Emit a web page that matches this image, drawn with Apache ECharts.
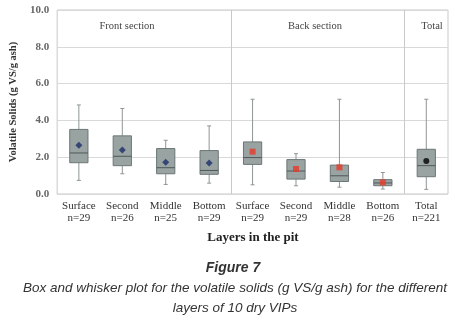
<!DOCTYPE html>
<html>
<head>
<meta charset="utf-8">
<script src="https://cdn.jsdelivr.net/npm/echarts@6/dist/echarts.min.js"></script>
<style>
  html, body { margin: 0; padding: 0; background: #fff; }
  #chart { width: 455px; height: 324px; }
</style>
</head>
<body>
<div id="chart"></div>
<script>
// layers of the pit, front section x4, back section x4, total
const categories = ['Surface', 'Second', 'Middle', 'Bottom', 'Surface', 'Second', 'Middle', 'Bottom', 'Total'];
const counts = [29, 26, 25, 29, 29, 29, 28, 26, 221];
const whiskerLow = [0.74, 1.10, 0.52, 0.59, 0.50, 0.45, 0.37, 0.27, 0.25];
const q1 = [1.70, 1.54, 1.10, 1.07, 1.61, 0.81, 0.68, 0.45, 0.94];
const median = [2.23, 2.05, 1.43, 1.28, 1.98, 1.25, 0.99, 0.60, 1.54];
const q3 = [3.51, 3.16, 2.47, 2.36, 2.83, 1.87, 1.57, 0.78, 2.43];
const whiskerHigh = [4.84, 4.65, 2.92, 3.70, 5.15, 2.19, 5.15, 1.17, 5.15];
const means = [2.65, 2.39, 1.72, 1.68, 2.30, 1.36, 1.45, 0.63, 1.79];
const sectionBreaks = [4, 8];

const serif = '"Liberation Serif", "Times New Roman", serif';
const sans = '"Liberation Sans", Arial, sans-serif';

const boxData = categories.map((c, i) => [i, whiskerLow[i], q1[i], median[i], q3[i], whiskerHigh[i]]);
const meanFront = [0, 1, 2, 3].map(i => [i, means[i]]);
const meanBack = [4, 5, 6, 7].map(i => [i, means[i]]);
const meanTotal = [[8, means[8]]];

const chart = echarts.init(document.getElementById('chart'));

function renderBox(params, api) {
  const x = api.value(0);
  const pLow = api.coord([x, api.value(1)]);
  const pQ1 = api.coord([x, api.value(2)]);
  const pMed = api.coord([x, api.value(3)]);
  const pQ3 = api.coord([x, api.value(4)]);
  const pHigh = api.coord([x, api.value(5)]);
  const half = api.size([1, 0])[0] * 0.21;
  const cap = 2;
  const cx = pMed[0];
  const whisker = { stroke: '#8e9595', lineWidth: 1 };
  return {
    type: 'group',
    children: [
      { type: 'line', shape: { x1: cx, y1: pHigh[1], x2: cx, y2: pQ3[1] }, style: whisker },
      { type: 'line', shape: { x1: cx, y1: pQ1[1], x2: cx, y2: pLow[1] }, style: whisker },
      { type: 'line', shape: { x1: cx - cap, y1: pHigh[1], x2: cx + cap, y2: pHigh[1] }, style: whisker },
      { type: 'line', shape: { x1: cx - cap, y1: pLow[1], x2: cx + cap, y2: pLow[1] }, style: whisker },
      {
        type: 'rect',
        shape: { x: cx - half, y: pQ3[1], width: half * 2, height: pQ1[1] - pQ3[1] },
        style: { fill: '#98a3a2', stroke: '#6c7676', lineWidth: 1 }
      },
      { type: 'line', shape: { x1: cx - half, y1: pMed[1], x2: cx + half, y2: pMed[1] }, style: { stroke: '#4f5858', lineWidth: 1 } }
    ]
  };
}

const option = {
  backgroundColor: '#fff',
  animation: false,
  title: [
    { text: 'Front section', left: 122, top: 16, textAlign: 'center',
      textStyle: { fontFamily: serif, fontSize: 10.5, fontWeight: 'normal', color: '#444' } },
    { text: 'Back section', left: 310, top: 16, textAlign: 'center',
      textStyle: { fontFamily: serif, fontSize: 10.5, fontWeight: 'normal', color: '#444' } },
    { text: 'Total', left: 427, top: 16, textAlign: 'center',
      textStyle: { fontFamily: serif, fontSize: 10.5, fontWeight: 'normal', color: '#444' } },
    { text: 'Layers in the pit', left: 248, top: 226, textAlign: 'center',
      textStyle: { fontFamily: serif, fontSize: 13, fontWeight: 'bold', color: '#222' } },
    { text: 'Figure 7', left: 228, top: 256, textAlign: 'center',
      textStyle: { fontFamily: sans, fontSize: 14, fontWeight: 'bold', fontStyle: 'italic', color: '#333' } },
    { text: 'Box and whisker plot for the volatile solids (g VS/g ash) for the different\nlayers of 10 dry VIPs',
      left: 230, top: 273, textAlign: 'center',
      textStyle: { fontFamily: sans, fontSize: 13.5, fontWeight: 'normal', fontStyle: 'italic', color: '#333', lineHeight: 20 } }
  ],
  grid: {
    left: 52, right: 7, top: 10, bottom: 130,
    show: true, borderColor: '#c9c9c9', borderWidth: 1
  },
  xAxis: [
    {
      type: 'category',
      data: categories,
      axisLine: { show: false },
      axisTick: { show: false },
      axisLabel: {
        interval: 0,
        margin: 6,
        fontFamily: serif, fontSize: 11, color: '#333', lineHeight: 12,
        formatter: (v, i) => v + '\nn=' + counts[i]
      }
    },
    { type: 'value', min: 0, max: 9, show: false }
  ],
  yAxis: {
    type: 'value',
    min: 0, max: 10, interval: 2,
    name: 'Volatile Solids (g VS/g ash)',
    nameLocation: 'middle',
    nameGap: 29,
    nameTextStyle: { fontFamily: serif, fontSize: 10.5, fontWeight: 'bold', color: '#333' },
    axisLine: { show: false },
    axisTick: { show: false },
    splitLine: { lineStyle: { color: '#d9d9d9' } },
    axisLabel: {
      margin: 8,
      fontFamily: serif, fontSize: 11, fontWeight: 'bold', color: '#666',
      formatter: v => v.toFixed(1)
    }
  },
  series: [
    {
      type: 'custom',
      renderItem: renderBox,
      encode: { x: 0, y: [1, 2, 3, 4, 5] },
      data: boxData,
      z: 2
    },
    {
      type: 'scatter', data: meanFront, symbol: 'diamond', symbolSize: 7,
      itemStyle: { color: '#1d2d6b' }, z: 5
    },
    {
      type: 'scatter', data: meanBack, symbol: 'rect', symbolSize: 6,
      itemStyle: { color: '#e8392a' }, z: 5
    },
    {
      type: 'scatter', data: meanTotal, symbol: 'circle', symbolSize: 6,
      itemStyle: { color: '#000' }, z: 5
    },
    {
      type: 'scatter', xAxisIndex: 1, data: [], silent: true,
      markLine: {
        symbol: 'none', silent: true, label: { show: false },
        lineStyle: { color: '#c9c9c9', type: 'solid', width: 1 },
        data: sectionBreaks.map(b => ({ xAxis: b }))
      }
    }
  ]
};

chart.setOption(option);
</script>
</body>
</html>
